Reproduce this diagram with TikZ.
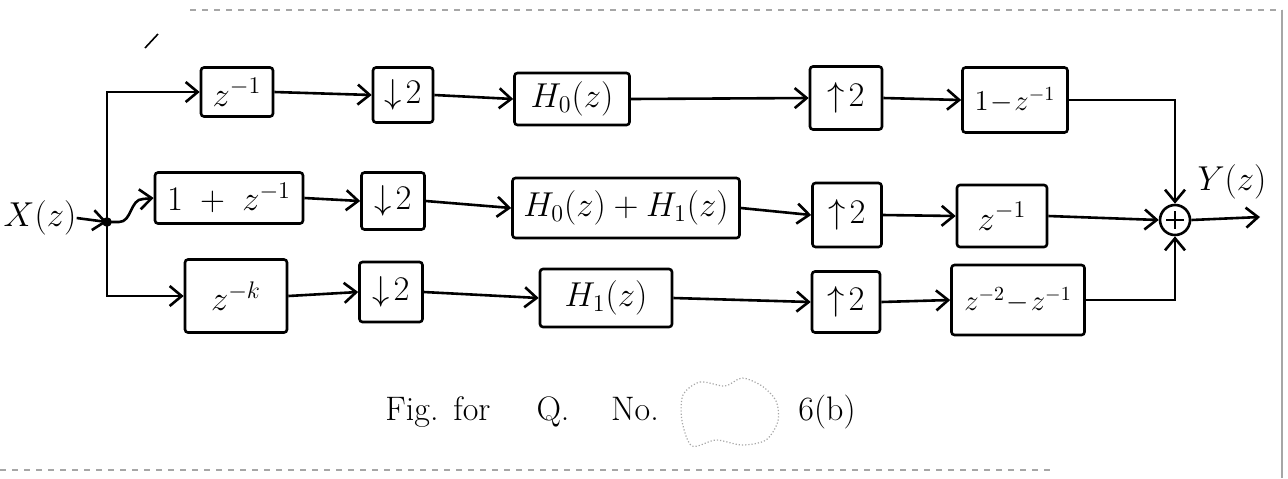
\documentclass[tikz,border=0pt]{standalone}
\usetikzlibrary{arrows.meta,calc}
\begin{document}
\begin{tikzpicture}[x=0.5pt,y=-0.5pt,
  ink/.style={line width=1.3pt, black},
  blk/.style={draw, ink, rectangle, rounded corners=1.5pt, inner sep=0pt, font=\fontsize{17}{20}\selectfont},
  small/.style={font=\fontsize{14.5}{17}\selectfont},
  arr/.style={ink, -{Straight Barb[length=6pt,width=10pt,line width=1.3pt]}},
  lbl/.style={font=\fontsize{17}{20}\selectfont, inner sep=0pt},
  captext/.style={font=\fontsize{17}{20}\selectfont, inner sep=0pt, anchor=base},
  scan/.style={gray!70, line width=0.6pt}
]
\useasboundingbox (0,0) rectangle (1288,478);

% scan edges
\draw[scan, dashed] (190,10) -- (1282,10);
\draw[scan] (1282,10) -- (1282,478);
\draw[scan, dashed] (0,470) -- (1050,470);
\draw[line width=0.8pt] (145,48) -- (158,34);

% row 1
\node[blk, minimum width=36pt, minimum height=24.5pt] (a1) at (237,92) {$z^{-1}$};
\node[blk, minimum width=30pt, minimum height=27.5pt] (b1) at (403,95) {$\downarrow\!2$};
\node[blk, minimum width=57.5pt, minimum height=26pt] (c1) at (572,99) {$H_0(z)$};
\node[blk, minimum width=36pt, minimum height=31.5pt] (d1) at (846,98) {$\uparrow\!2$};
\node[blk, small, minimum width=52.5pt, minimum height=32.5pt] (e1) at (1015,100) {$1\!-\!z^{-1}$};
% row 2
\node[blk, minimum width=74pt, minimum height=25.5pt] (a2) at (229,198) {$1\;+\;z^{-1}$};
\node[blk, minimum width=31.5pt, minimum height=28.5pt] (b2) at (393,201) {$\downarrow\!2$};
\node[blk, minimum width=113.5pt, minimum height=30pt] (c2) at (626,208) {$H_0(z)+H_1(z)$};
\node[blk, minimum width=34.5pt, minimum height=32pt] (d2) at (847,215) {$\uparrow\!2$};
\node[blk, minimum width=45pt, minimum height=31pt] (e2) at (1002,216) {$z^{-1}$};
% row 3
\node[blk, minimum width=51pt, minimum height=36.5pt] (a3) at (236,296) {$z^{-k}$};
\node[blk, minimum width=31.5pt, minimum height=30pt] (b3) at (391,292) {$\downarrow\!2$};
\node[blk, minimum width=66pt, minimum height=29pt] (c3) at (606,298) {$H_1(z)$};
\node[blk, minimum width=34pt, minimum height=30.5pt] (d3) at (846,302) {$\uparrow\!2$};
\node[blk, small, minimum width=66.5pt, minimum height=35pt] (e3) at (1018,300) {$z^{-2}\!-\!z^{-1}$};

% summer, input, output
\node[draw, ink, circle, minimum size=15pt, inner sep=0pt] (sum) at (1175,220) {};
\draw[ink] ($(sum.center)+(-9,0)$) -- ($(sum.center)+(9,0)$);
\draw[ink] ($(sum.center)+(0,-9)$) -- ($(sum.center)+(0,9)$);
\coordinate (j) at (107,222);
\fill (j) circle (2.4pt);
\node[lbl] (X) at (40,218) {$X(z)$};
\node[lbl] (Y) at (1232,182) {$Y(z)$};
\coordinate (out) at (1260,217);

% connectors
\draw[arr] (X.east) -- (j);
\draw[arr] (j) |- (a1.west);
\draw[arr] (j) |- (a3.west);
\draw[arr] (j) -- ++(12,0) to[out=0,in=180] ++(24,-23) -- (a2.west);

\draw[arr] (a1.east) -- (b1.west);
\draw[arr] (b1.east) -- (c1.west);
\draw[arr] (c1.east) -- (d1.west);
\draw[arr] (d1.east) -- (e1.west);
\draw[arr] (a2.east) -- (b2.west);
\draw[arr] (b2.east) -- (c2.west);
\draw[arr] (c2.east) -- (d2.west);
\draw[arr] (d2.east) -- (e2.west);
\draw[arr] (a3.east) -- (b3.west);
\draw[arr] (b3.east) -- (c3.west);
\draw[arr] (c3.east) -- (d3.west);
\draw[arr] (d3.east) -- (e3.west);

\draw[arr] (e1.east) -| (sum.north);
\draw[arr] (e2.east) -- (sum.west);
\draw[arr] (e3.east) -| (sum.south);
\draw[arr] (sum.east) -- (out);

% caption
\node[captext] (fig) at (412,420) {Fig.};
\node[captext] (for) at (472,420) {for};
\node[captext] (q) at (553,420) {Q.};
\node[captext] (no) at (635,420) {No.};
\draw[scan, densely dotted] plot[smooth cycle] coordinates {(683,395) (700,382) (725,386) (742,378) (762,386) (776,401) (778,421) (766,440) (742,445) (716,440) (692,446) (682,421)};
\node[captext] (qn) at (827,420) {6(b)};
\end{tikzpicture}
\end{document}
